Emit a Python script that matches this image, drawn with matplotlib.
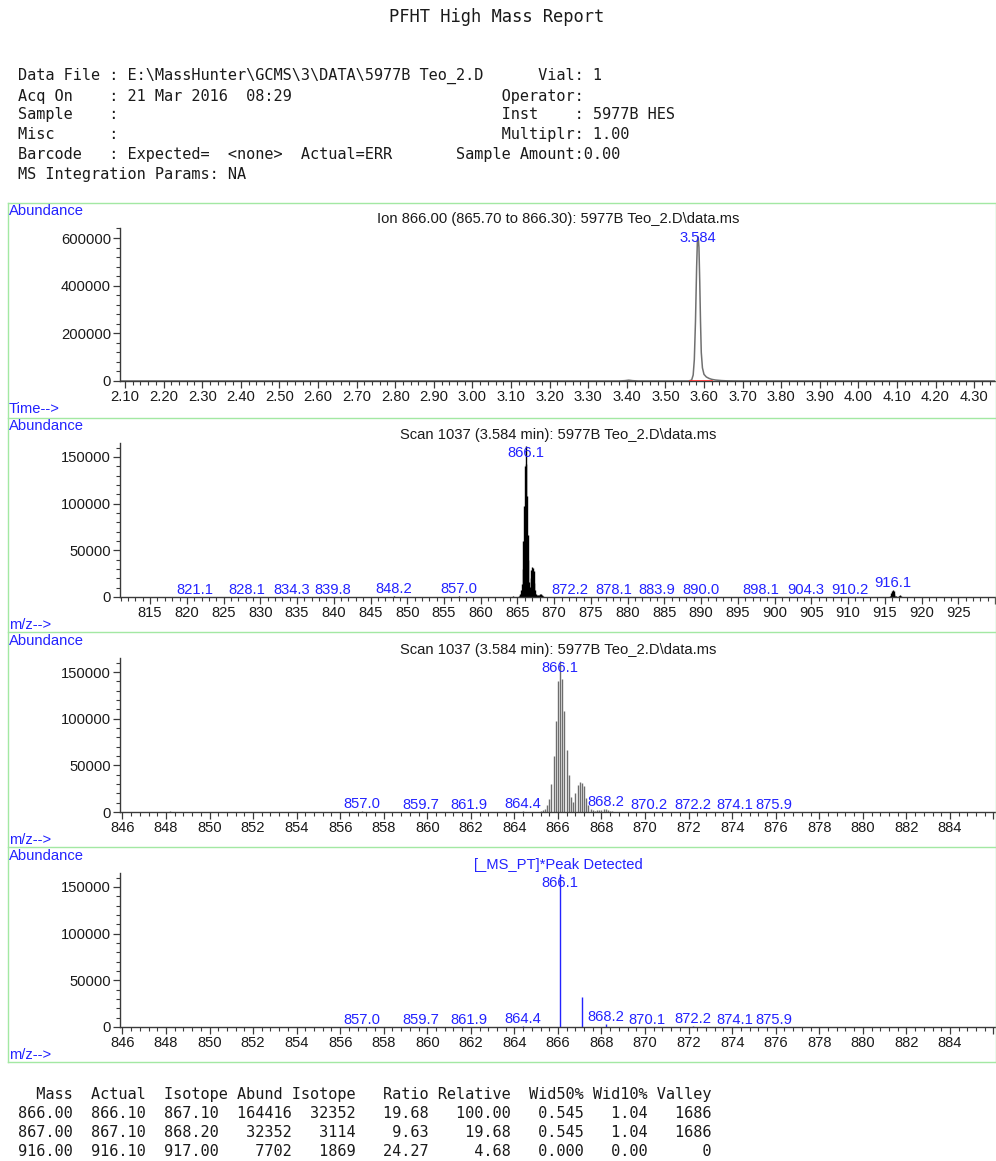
import matplotlib
matplotlib.use('Agg')
import matplotlib.pyplot as plt
from matplotlib.ticker import MultipleLocator
from matplotlib.lines import Line2D
import numpy as np

# ---------------- data ----------------
report_title = "PFHT High Mass Report"

hdr_left = [
    "Data File : E:\\MassHunter\\GCMS\\3\\DATA\\5977B Teo_2.D",
    "Acq On    : 21 Mar 2016  08:29",
    "Sample    :",
    "Misc      :",
    "Barcode   : Expected=  <none>  Actual=ERR",
    "MS Integration Params: NA",
]
hdr_right = ["Vial: 1", "Operator:", "Inst    : 5977B HES", "Multiplr: 1.00",
             "Sample Amount:0.00", ""]
hdr_right_col = [57, 53, 53, 53, 48, 0]

# Panel 1: extracted ion chromatogram
chrom_title = "Ion 866.00 (865.70 to 866.30): 5977B Teo_2.D\\data.ms"
chrom_time = [2.087, 3.380, 3.395, 3.405, 3.415, 3.430, 3.550, 3.560, 3.568, 3.572,
              3.575, 3.578, 3.581, 3.583, 3.585, 3.587, 3.589, 3.591, 3.593, 3.596,
              3.600, 3.606, 3.613, 3.620, 3.630, 3.645, 3.660, 3.700, 4.354]
chrom_abund = [0, 0, 1500, 3500, 1500, 0, 0, 0, 4000, 25000,
               90000, 250000, 480000, 590000, 604000, 560000, 420000, 250000, 120000, 55000,
               28000, 17000, 11000, 7000, 4000, 1800, 600, 0, 0]
chrom_peak_rt = 3.584
chrom_peak_label = "3.584"
chrom_peak_height = 604000
integ_start, integ_end = 3.563, 3.622

# Scan 1037 profile spectrum
scan_title = "Scan 1037 (3.584 min): 5977B Teo_2.D\\data.ms"
prof_mz = [821.0, 821.1, 821.2, 828.0, 828.1, 828.2, 834.2, 834.3, 834.4,
           839.7, 839.8, 839.9, 848.1, 848.2, 848.3, 856.9, 857.0, 857.1,
           859.6, 859.7, 859.8, 861.8, 861.9, 862.0, 864.3, 864.4, 864.5,
           865.2, 865.3, 865.4, 865.5, 865.6, 865.7, 865.8, 865.9, 866.0, 866.1,
           866.2, 866.3, 866.4, 866.5, 866.6, 866.7, 866.8, 866.9, 867.0, 867.1,
           867.2, 867.3, 867.4, 867.5, 867.6, 867.7, 867.8, 867.9, 868.0, 868.1,
           868.2, 868.3, 868.4, 868.5,
           870.1, 870.2, 870.3, 872.1, 872.2, 872.3, 874.0, 874.1, 874.2,
           875.8, 875.9, 876.0, 878.0, 878.1, 878.2, 883.8, 883.9, 884.0,
           889.9, 890.0, 890.1, 898.0, 898.1, 898.2, 904.2, 904.3, 904.4,
           910.1, 910.2, 910.3,
           915.7, 915.8, 915.9, 916.0, 916.1, 916.2, 916.3, 916.4, 916.5,
           916.9, 917.0, 917.1, 917.2, 917.3]
prof_ab = [200, 500, 200, 200, 500, 200, 200, 500, 200,
           200, 500, 200, 500, 1500, 500, 200, 600, 200,
           200, 500, 200, 200, 500, 200, 300, 700, 300,
           1200, 2000, 3500, 7000, 14000, 30000, 60000, 98000, 140000, 162000,
           142000, 108000, 66000, 40000, 16000, 11000, 20000, 29000, 32500, 31000,
           28000, 15000, 7000, 3500, 2000, 1500, 1800, 2200, 2500, 2800,
           3000, 2500, 1500, 800,
           300, 500, 300, 300, 500, 300, 200, 450, 200,
           200, 450, 200, 200, 450, 200, 200, 450, 200,
           200, 450, 200, 200, 450, 200, 200, 450, 200,
           200, 450, 200,
           600, 1500, 4000, 6500, 8000, 6000, 3000, 1500, 800,
           600, 1200, 1800, 1200, 500]

p2_labels = [821.1, 828.1, 834.3, 839.8, 848.2, 857.0, 866.1, 872.2, 878.1,
             883.9, 890.0, 898.1, 904.3, 910.2, 916.1]
p3_labels = [857.0, 859.7, 861.9, 864.4, 866.1, 868.2, 870.2, 872.2, 874.1, 875.9]

# Panel 4: detected (centroid) peaks
pt_title = "[_MS_PT]*Peak Detected"
cent_mz = [857.0, 859.7, 861.9, 864.4, 866.1, 867.1, 868.2, 870.1, 872.2, 874.1, 875.9]
cent_ab = [500, 400, 500, 700, 164416, 32352, 3114, 400, 600, 400, 400]
cent_labels = [857.0, 859.7, 861.9, 864.4, 866.1, 868.2, 870.1, 872.2, 874.1, 875.9]

# Result table
tbl_mass = [866.00, 867.00, 916.00]
tbl_actual = [866.10, 867.10, 916.10]
tbl_isotope = [867.10, 868.20, 917.00]
tbl_abund = [164416, 32352, 7702]
tbl_iso_abund = [32352, 3114, 1869]
tbl_ratio = [19.68, 9.63, 24.27]
tbl_relative = [100.00, 19.68, 4.68]
tbl_wid50 = [0.545, 0.545, 0.000]
tbl_wid10 = [1.04, 1.04, 0.00]
tbl_valley = [1686, 1686, 0]
tbl_header = ["Mass", "Actual", "Isotope", "Abund", "Isotope", "Ratio", "Relative",
              "Wid50%", "Wid10%", "Valley"]

# ---------------- styling ----------------
W, H = 996, 1161
fig = plt.figure(figsize=(W / 100, H / 100), dpi=100)
SANS = ['Liberation Sans', 'DejaVu Sans']
MONO = ['DejaVu Sans Mono']
BLUE = '#2323ff'
GREEN = '#a3e8a3'
TXT = '#1a1a1a'
FS = 10.6
TFS = 10.6
MONO_FS = 11


def ftext(x, y, s, **kw):
    kw.setdefault('family', SANS)
    fig.text(x / W, 1 - y / H, s, **kw)


# header
ftext(497, 17, report_title, family=MONO, fontsize=12.3, ha='center', va='center', color=TXT)
hdr_y = [76, 96, 115, 135, 154, 174]
for l, r, c, y in zip(hdr_left, hdr_right, hdr_right_col, hdr_y):
    s = l if not r else l.ljust(c) + r
    ftext(18, y, s, family=MONO, fontsize=MONO_FS, ha='left', va='center', color=TXT)

# panel frames
for yy in [203, 418, 632, 847, 1062]:
    fig.add_artist(Line2D([8 / W, 995.5 / W], [1 - yy / H, 1 - yy / H],
                          transform=fig.transFigure, color=GREEN, lw=1))
for xx in [8, 995.5]:
    fig.add_artist(Line2D([xx / W, xx / W], [1 - 203 / H, 1 - 1062 / H],
                          transform=fig.transFigure, color=GREEN, lw=1))


def make_axes(top, bottom, xlim, ylim, xmaj, xmin, ymaj, ymin, xfmt, xlab_max):
    left, right = 120, 995
    ax = fig.add_axes([left / W, 1 - bottom / H, (right - left) / W, (bottom - top) / H])
    ax.set_xlim(*xlim)
    ax.set_ylim(*ylim)
    for s in ['top', 'right']:
        ax.spines[s].set_visible(False)
    for s in ['left', 'bottom']:
        ax.spines[s].set_color('#3a3a3a')
        ax.spines[s].set_linewidth(1.0)
    ax.xaxis.set_major_locator(MultipleLocator(xmaj))
    ax.xaxis.set_minor_locator(MultipleLocator(xmin))
    ax.yaxis.set_major_locator(MultipleLocator(ymaj))
    ax.yaxis.set_minor_locator(MultipleLocator(ymin))
    ax.xaxis.set_major_formatter(
        plt.FuncFormatter(lambda v, p: xfmt.format(v) if v <= xlab_max + 1e-9 else ""))
    ax.yaxis.set_major_formatter(plt.FuncFormatter(lambda v, p: f"{v:.0f}"))
    ax.tick_params(which='major', direction='out', length=5, width=0.9, color='#3a3a3a',
                   labelsize=FS, labelcolor=TXT, pad=1.5)
    ax.tick_params(which='minor', direction='out', length=3, width=0.8, color='#3a3a3a')
    for lab in ax.get_xticklabels() + ax.get_yticklabels():
        lab.set_family(SANS)
    ax.patch.set_alpha(0)
    ax._px = (top, bottom)
    return ax


def peak_labels(ax, xs, ys, texts, color=BLUE):
    top, bottom = ax._px
    ymax = ax.get_ylim()[1]
    ppu = (bottom - top) / ymax
    for x, y, t in zip(xs, ys, texts):
        peak_px = bottom - y * ppu
        base_px = max(peak_px - 3, top + 14)
        yd = (bottom - base_px) / ppu
        ax.text(x, yd, t, ha='center', va='baseline', color=color, fontsize=FS,
                family=SANS, clip_on=False, zorder=5)


def prof_height(m):
    vals = [a for mz, a in zip(prof_mz, prof_ab) if abs(mz - m) < 0.15]
    return max(vals) if vals else 0


# ---- Panel 1
ax1 = make_axes(228, 381, (2.087, 4.354), (0, 642000), 0.1, 0.02, 200000, 40000,
                "{:.2f}", 4.30)
ax1.plot(chrom_time, chrom_abund, color='#707070', lw=1.1)
ax1.plot([integ_start, integ_end], [0, 0], color='#ff3030', lw=1.2, zorder=4)
peak_labels(ax1, [chrom_peak_rt], [chrom_peak_height], [chrom_peak_label])
ftext(558, 219, chrom_title, fontsize=TFS, ha='center', va='center', color=TXT)
ftext(9, 211, "Abundance", fontsize=FS, ha='left', va='center', color=BLUE)
ftext(9, 409, "Time-->", fontsize=FS, ha='left', va='center', color=BLUE)

# ---- Panel 2
ax2 = make_axes(443, 597, (810.9, 930.0), (0, 165000), 5, 1, 50000, 10000, "{:.0f}", 925)
ax2.vlines(prof_mz, 0, prof_ab, color='black', lw=1.0)
peak_labels(ax2, p2_labels, [prof_height(m) for m in p2_labels],
            [f"{m:.1f}" for m in p2_labels])
ftext(558, 435, scan_title, fontsize=TFS, ha='center', va='center', color=TXT)
ftext(9, 426, "Abundance", fontsize=FS, ha='left', va='center', color=BLUE)
ftext(9, 625, "m/z-->", fontsize=FS, ha='left', va='center', color=BLUE)

# ---- Panel 3
ax3 = make_axes(658, 812, (845.89, 886.07), (0, 165000), 2, 0.4, 50000, 10000, "{:.0f}", 884)
ax3.vlines(prof_mz, 0, prof_ab, color='#6e6e6e', lw=1.0)
peak_labels(ax3, p3_labels, [prof_height(m) for m in p3_labels],
            [f"{m:.1f}" for m in p3_labels])
ftext(558, 650, scan_title, fontsize=TFS, ha='center', va='center', color=TXT)
ftext(9, 641, "Abundance", fontsize=FS, ha='left', va='center', color=BLUE)
ftext(9, 840, "m/z-->", fontsize=FS, ha='left', va='center', color=BLUE)

# ---- Panel 4
ax4 = make_axes(873, 1027, (845.89, 886.07), (0, 165000), 2, 0.4, 50000, 10000, "{:.0f}", 884)
ax4.vlines(cent_mz, 0, cent_ab, color=BLUE, lw=1.0)
cent_h = [dict(zip(cent_mz, cent_ab)).get(m, 0) for m in cent_labels]
peak_labels(ax4, cent_labels, cent_h, [f"{m:.1f}" for m in cent_labels])
ftext(558, 865, pt_title, fontsize=TFS, ha='center', va='center', color=BLUE)
ftext(9, 856, "Abundance", fontsize=FS, ha='left', va='center', color=BLUE)
ftext(9, 1055, "m/z-->", fontsize=FS, ha='left', va='center', color=BLUE)

# ---- Table
hdr_widths = [6, 8, 9, 6, 8, 8, 9, 8, 7, 7]
hdr_str = "".join(h.rjust(w) for h, w in zip(tbl_header, hdr_widths))
ftext(18, 1095, hdr_str, family=MONO, fontsize=MONO_FS, ha='left', va='center', color=TXT)
for i in range(len(tbl_mass)):
    row = (f"{tbl_mass[i]:6.2f}{tbl_actual[i]:8.2f}{tbl_isotope[i]:8.2f}"
           f"{tbl_abund[i]:8d}{tbl_iso_abund[i]:7d}{tbl_ratio[i]:8.2f}"
           f"{tbl_relative[i]:9.2f}{tbl_wid50[i]:8.3f}{tbl_wid10[i]:7.2f}{tbl_valley[i]:7d}")
    ftext(18, 1113 + 19.3 * i, row, family=MONO, fontsize=MONO_FS, ha='left', va='center',
          color=TXT)

fig.savefig("out.png", dpi=100, facecolor='white')
